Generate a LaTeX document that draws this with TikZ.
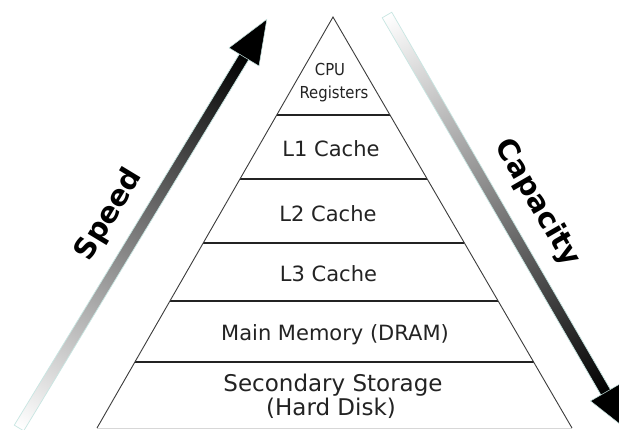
\documentclass[tikz,border=0pt]{standalone}
\usepackage{fontspec}
\setmainfont{DejaVu Sans}
\newfontfamily\narrowfont[FakeStretch=0.9]{DejaVu Sans}
\usetikzlibrary{calc}

\definecolor{labeltext}{RGB}{35,35,35}
\definecolor{tierline}{RGB}{35,35,35}
\definecolor{sideline}{RGB}{60,60,60}
\definecolor{floorgray}{RGB}{215,215,215}
\definecolor{halo}{RGB}{200,230,226}

\tikzset{
  tier/.style={draw=tierline, line width=2pt},
  side/.style={draw=sideline, line width=0.9pt},
  tierlabel/.style={font=\fontsize{21}{25}\selectfont, text=labeltext, anchor=base, inner sep=0pt},
  disklabel/.style={tierlabel, font=\fontsize{23}{25}\selectfont},
  smalllabel/.style={font=\narrowfont\fontsize{16.5}{20}\selectfont, text=labeltext, anchor=base, inner sep=0pt},
  axislabel/.style={font=\bfseries\fontsize{29}{32}\selectfont, text=black, inner sep=0pt},
  shaft/.style={draw=halo, line width=0.7pt, left color=white, right color=black},
  head/.style={fill=black, draw=halo, line width=0.5pt},
}

\begin{document}
\begin{tikzpicture}[x=1pt,y=-1pt]
\useasboundingbox (0,0) rectangle (619,429);
\clip (0,0) rectangle (619,429);
\fill[white] (0,0) rectangle (619,429);

% pyramid outline and tier separators
\coordinate (apex) at (333,17);
\coordinate (bl) at (97,428);
\coordinate (br) at (572,428);
\draw[floorgray, line width=1pt] (bl) -- (br);
\foreach \yy in {115,179,243,301,362} {
  \draw[tier] ($(apex)!{(\yy-17)/411}!(bl)$) -- ($(apex)!{(\yy-17)/411}!(br)$);
}
\draw[side] (bl) -- (apex) -- (br);

% speed arrow (rising, light to dark)
\begin{scope}[transform canvas={shift={(19,428)}, rotate=58.77}]
  \path[shaft] (0,-5.5) rectangle (436,5.5);
  \path[head] (434,-17.5) -- (478,0) -- (434,17.5) -- cycle;
\end{scope}

% capacity arrow (falling, light to dark)
\begin{scope}[transform canvas={shift={(387,15)}, rotate=-59.9}]
  \path[shaft] (0,-5.5) rectangle (438,5.5);
  \path[head] (436,-17.5) -- (480,0) -- (436,17.5) -- cycle;
\end{scope}

% tier labels
\node[smalllabel] (cpu) at (330,75) {CPU};
\node[smalllabel] (regs) at (334,98) {Registers};
\node[tierlabel] (l1) at (331,156.5) {L1 Cache};
\node[tierlabel] (l2) at (328,221.5) {L2 Cache};
\node[tierlabel] (l3) at (328.5,281.5) {L3 Cache};
\node[tierlabel] (dram) at (335,340) {Main Memory (DRAM)};
\node[disklabel] (disk) at (333,391.5) {Secondary Storage};
\node[disklabel] (hdd) at (331,415) {(Hard Disk)};

% axis labels
\node[axislabel, rotate=58.8] (speed) at (109,215) {Speed};
\node[axislabel, rotate=-60] (capacity) at (537,203) {Capacity};
\end{tikzpicture}
\end{document}
